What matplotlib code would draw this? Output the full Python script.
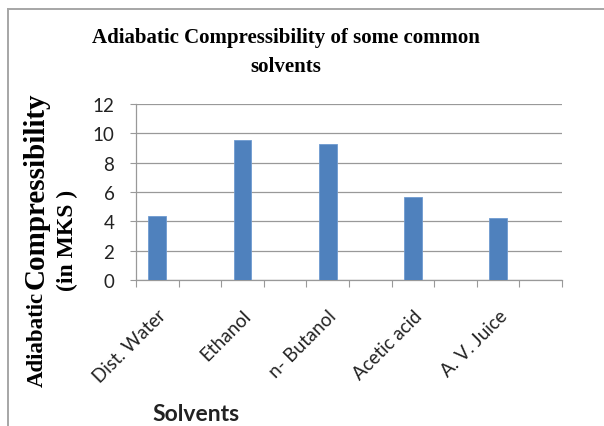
import matplotlib
matplotlib.use("Agg")
import matplotlib.pyplot as plt
from matplotlib.lines import Line2D

solvents = ["Dist. Water", "Ethanol", "n- Butanol", "Acetic acid", "A. V. Juice"]
compressibility = [4.34, 9.56, 9.27, 5.66, 4.2]
y_ticks = [0, 2, 4, 6, 8, 10, 12]

W, H = 604, 427
fig = plt.figure(figsize=(W / 100, H / 100), dpi=100)


def px(x, y):
    return x / W, 1 - y / H


ax = fig.add_axes([136 / W, 1 - 281 / H, 426 / W, 176 / H])

# every solvent sits in every other slot, empty slots in between
pos = [2 * i for i in range(len(solvents))]
ax.bar(pos, compressibility, width=0.42, color="#4f81bd", edgecolor="#6f9bd0", linewidth=0.6, zorder=3)

ax.set_xlim(-0.5, 2 * len(solvents) - 0.5)
ax.set_ylim(0, 12)
ax.set_yticks(y_ticks)
ax.grid(axis="y", color="#999999", linewidth=0.9, zorder=0)

ax.set_xticks([b - 0.5 for b in range(2 * len(solvents) + 1)])
ax.set_xticklabels([])
ax.set_xticks(pos, minor=True)
ax.set_xticklabels(solvents, minor=True, rotation=45, ha="right", va="top",
                   rotation_mode="anchor", fontsize=13.5, family="Lato", color="#222222")
ax.tick_params(axis="x", which="major", direction="out", length=5, color="#999999")
ax.tick_params(axis="x", which="minor", length=0, pad=19)
ax.tick_params(axis="y", direction="out", length=4.5, color="#999999", pad=11,
               labelsize=13.5, labelcolor="#222222")
for lab in ax.get_yticklabels():
    lab.set_family("Lato")

for s in ["top", "right"]:
    ax.spines[s].set_visible(False)
for s in ["left", "bottom"]:
    ax.spines[s].set_color("#999999")
    ax.spines[s].set_linewidth(0.9)

serif = "Liberation Serif"
fig.text(*px(286, 43), "Adiabatic Compressibility of some common", ha="center", va="baseline",
         family=serif, weight="bold", fontsize=15)
fig.text(*px(286, 72), "solvents", ha="center", va="baseline",
         family=serif, weight="bold", fontsize=15)

# y label: small "Adiabatic" followed by a larger "Compressibility"
t1 = fig.text(*px(43, 387), "Adiabatic", rotation=90, rotation_mode="anchor", ha="left", va="baseline",
              family=serif, weight="bold", fontsize=16.5)
fig.canvas.draw()
top1 = t1.get_window_extent().y1
fig.text(44 / W, (top1 + 3) / H, "Compressibility", rotation=90, rotation_mode="anchor",
         ha="left", va="baseline", family=serif, weight="bold", fontsize=21)
fig.text(*px(73, 240), "(in MKS )", rotation=90, rotation_mode="anchor", ha="center", va="baseline",
         family=serif, weight="bold", fontsize=17)

fig.text(*px(196, 421), "Solvents", ha="center", va="baseline",
         family="Lato", weight="bold", fontsize=16.5, color="#222222")

fig.add_artist(Line2D([8 / W, 1], [1 - 10 / H, 1 - 10 / H], color="#a6a6a6", linewidth=1.4))
fig.add_artist(Line2D([8 / W, 8 / W], [1 - 10 / H, 0], color="#a6a6a6", linewidth=1.4))

fig.savefig("out.png", dpi=100, facecolor="white")
